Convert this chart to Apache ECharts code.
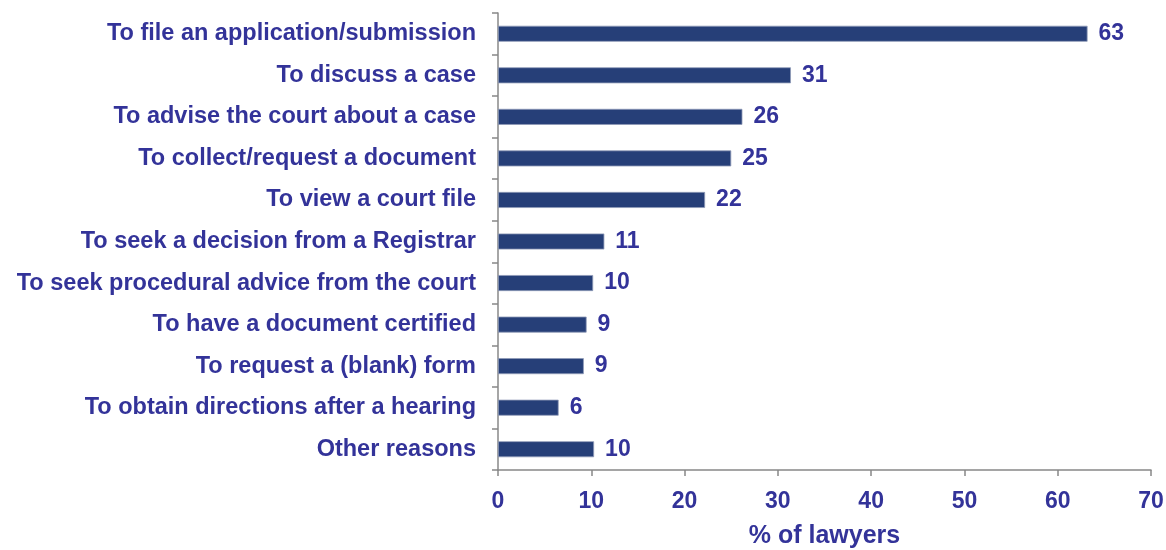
<!DOCTYPE html>
<html>
<head>
<meta charset="utf-8">
<script src="https://cdn.jsdelivr.net/npm/echarts@6/dist/echarts.min.js"></script>
<style>html,body{margin:0;padding:0;background:#fff}#c{width:1166px;height:550px}</style>
</head>
<body>
<div id="c"></div>
<script>
const categories = [
  "To file an application/submission",
  "To discuss a case",
  "To advise the court about a case",
  "To collect/request a document",
  "To view a court file",
  "To seek a decision from a Registrar",
  "To seek procedural advice from the court",
  "To have a document certified",
  "To request a (blank) form",
  "To obtain directions after a hearing",
  "Other reasons"
];
const values = [63.2, 31.4, 26.2, 25.0, 22.2, 11.4, 10.2, 9.5, 9.2, 6.5, 10.3];
const valueLabels = ["63", "31", "26", "25", "22", "11", "10", "9", "9", "6", "10"];
const xTicks = [0, 10, 20, 30, 40, 50, 60, 70];

const textColor = "#333399";
const fontFamily = "'Liberation Sans', Arial, sans-serif";
const chart = echarts.init(document.getElementById('c'), null, {renderer: 'canvas'});
chart.setOption({
  animation: false,
  grid: {left: 498, right: 15, top: 13, bottom: 80, containLabel: false, outerBoundsMode: 'none'},
  xAxis: {
    type: 'value', min: xTicks[0], max: xTicks[xTicks.length - 1], interval: 10,
    name: '% of lawyers', nameLocation: 'middle', nameGap: 54,
    nameTextStyle: {color: textColor, fontSize: 25, fontWeight: 'bold', fontFamily},
    axisLine: {show: true, lineStyle: {color: '#888888', width: 1.5}},
    axisTick: {show: true, length: 6, lineStyle: {color: '#888888', width: 1.5}},
    axisLabel: {color: textColor, fontSize: 23, fontWeight: 'bold', fontFamily, margin: 20},
    splitLine: {show: false}
  },
  yAxis: {
    type: 'category', data: categories, inverse: true,
    axisLine: {show: true, lineStyle: {color: '#888888', width: 1.5}},
    axisTick: {show: true, length: 6, lineStyle: {color: '#888888', width: 1.5}},
    axisLabel: {color: textColor, fontSize: 23.5, fontWeight: 'bold', fontFamily, margin: 22}
  },
  series: [{
    type: 'bar', data: values, barWidth: 16,
    itemStyle: {color: '#263f78', borderColor: '#8f9bb8', borderWidth: 0.8},
    label: {
      show: true, position: 'right', distance: 11,
      color: textColor, fontSize: 23, fontWeight: 'bold', fontFamily,
      formatter: p => valueLabels[p.dataIndex]
    }
  }]
});
</script>
</body>
</html>
